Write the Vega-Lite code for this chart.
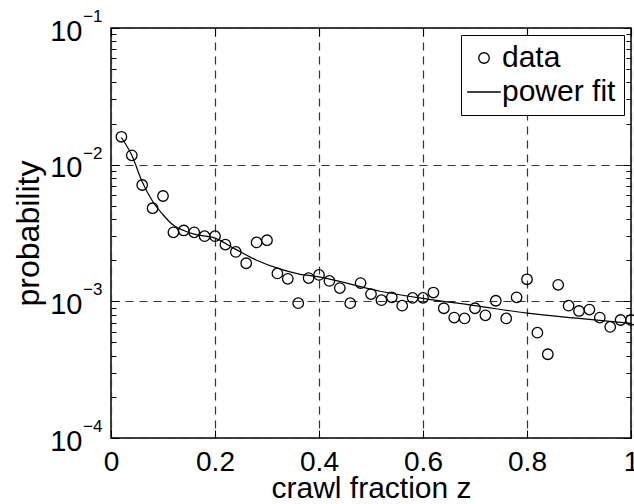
{
  "$schema": "https://vega.github.io/schema/vega-lite/v6.json",
  "width": 520,
  "height": 410,
  "autosize": {"type": "none"},
  "padding": {"left": 111, "top": 28, "right": 3, "bottom": 66},
  "background": "white",
  "config": {
    "font": "Liberation Sans",
    "view": {"stroke": "black", "strokeWidth": 1.5},
    "axis": {"labelFont": "Liberation Sans", "titleFont": "Liberation Sans", "labelColor": "black", "titleColor": "black", "titleFontWeight": "normal", "tickColor": "black", "domain": false, "labelFlush": false, "labelOverlap": false, "labelBound": false}
  },
  "datasets": {
    "pts": [
      {"z": 0.02, "p": 0.0160, "series": "data"},
      {"z": 0.04, "p": 0.0117, "series": "data"},
      {"z": 0.06, "p": 0.0071, "series": "data"},
      {"z": 0.08, "p": 0.0048, "series": "data"},
      {"z": 0.10, "p": 0.0059, "series": "data"},
      {"z": 0.12, "p": 0.0032, "series": "data"},
      {"z": 0.14, "p": 0.0033, "series": "data"},
      {"z": 0.16, "p": 0.0032, "series": "data"},
      {"z": 0.18, "p": 0.0030, "series": "data"},
      {"z": 0.20, "p": 0.0030, "series": "data"},
      {"z": 0.22, "p": 0.0026, "series": "data"},
      {"z": 0.24, "p": 0.0023, "series": "data"},
      {"z": 0.26, "p": 0.0019, "series": "data"},
      {"z": 0.28, "p": 0.0027, "series": "data"},
      {"z": 0.30, "p": 0.0028, "series": "data"},
      {"z": 0.32, "p": 0.0016, "series": "data"},
      {"z": 0.34, "p": 0.00146, "series": "data"},
      {"z": 0.36, "p": 0.00097, "series": "data"},
      {"z": 0.38, "p": 0.00148, "series": "data"},
      {"z": 0.40, "p": 0.00156, "series": "data"},
      {"z": 0.42, "p": 0.00141, "series": "data"},
      {"z": 0.44, "p": 0.00125, "series": "data"},
      {"z": 0.46, "p": 0.00097, "series": "data"},
      {"z": 0.48, "p": 0.00136, "series": "data"},
      {"z": 0.50, "p": 0.00113, "series": "data"},
      {"z": 0.52, "p": 0.00102, "series": "data"},
      {"z": 0.54, "p": 0.00107, "series": "data"},
      {"z": 0.56, "p": 0.00093, "series": "data"},
      {"z": 0.58, "p": 0.00106, "series": "data"},
      {"z": 0.60, "p": 0.00106, "series": "data"},
      {"z": 0.62, "p": 0.00116, "series": "data"},
      {"z": 0.64, "p": 0.00089, "series": "data"},
      {"z": 0.66, "p": 0.00076, "series": "data"},
      {"z": 0.68, "p": 0.00075, "series": "data"},
      {"z": 0.70, "p": 0.00089, "series": "data"},
      {"z": 0.72, "p": 0.00079, "series": "data"},
      {"z": 0.74, "p": 0.00101, "series": "data"},
      {"z": 0.76, "p": 0.00075, "series": "data"},
      {"z": 0.78, "p": 0.00107, "series": "data"},
      {"z": 0.80, "p": 0.00145, "series": "data"},
      {"z": 0.82, "p": 0.00059, "series": "data"},
      {"z": 0.84, "p": 0.00041, "series": "data"},
      {"z": 0.86, "p": 0.00132, "series": "data"},
      {"z": 0.88, "p": 0.00093, "series": "data"},
      {"z": 0.90, "p": 0.00085, "series": "data"},
      {"z": 0.92, "p": 0.00087, "series": "data"},
      {"z": 0.94, "p": 0.00076, "series": "data"},
      {"z": 0.96, "p": 0.00065, "series": "data"},
      {"z": 0.98, "p": 0.00073, "series": "data"},
      {"z": 1.00, "p": 0.00073, "series": "data"}
    ],
    "fit": [
      {"z": 0.02, "p": 0.0158},
      {"z": 0.04, "p": 0.0117},
      {"z": 0.06, "p": 0.0075},
      {"z": 0.08, "p": 0.0054},
      {"z": 0.10, "p": 0.0043},
      {"z": 0.12, "p": 0.0036},
      {"z": 0.14, "p": 0.0033},
      {"z": 0.16, "p": 0.0031},
      {"z": 0.20, "p": 0.0029},
      {"z": 0.24, "p": 0.0024},
      {"z": 0.28, "p": 0.0020},
      {"z": 0.32, "p": 0.00175},
      {"z": 0.36, "p": 0.00159},
      {"z": 0.40, "p": 0.00151},
      {"z": 0.52, "p": 0.00118},
      {"z": 0.60, "p": 0.00105},
      {"z": 0.70, "p": 0.00093},
      {"z": 0.80, "p": 0.00082},
      {"z": 0.90, "p": 0.00075},
      {"z": 1.00, "p": 0.00069}
    ],
    "exps": [
      {"p": 0.1, "e": "−1"},
      {"p": 0.01, "e": "−2"},
      {"p": 0.001, "e": "−3"},
      {"p": 0.0001, "e": "−4"}
    ]
  },
  "layer": [
    {
      "data": {"name": "fit"},
      "mark": {"type": "line", "color": "black", "strokeWidth": 1.2, "interpolate": "monotone"},
      "encoding": {
        "x": {"field": "z", "type": "quantitative", "scale": {"domain": [0, 1], "nice": false},
          "axis": {"orient": "top", "values": [0, 0.2, 0.4, 0.6, 0.8, 1], "labels": false, "grid": false, "title": null, "tickSize": -8, "tickWidth": 1}},
        "y": {"field": "p", "type": "quantitative", "scale": {"type": "log", "domain": [0.0001, 0.1], "nice": false},
          "axis": {"orient": "right", "labels": false, "grid": false, "title": null,
            "values": [0.0001,0.0002,0.0003,0.0004,0.0005,0.0006,0.0007,0.0008,0.0009,0.001,0.002,0.003,0.004,0.005,0.006,0.007,0.008,0.009,0.01,0.02,0.03,0.04,0.05,0.06,0.07,0.08,0.09,0.1],
            "tickWidth": 1,
            "tickSize": {"condition": {"test": "abs(log(datum.value)/LN10 - round(log(datum.value)/LN10)) < 0.000001", "value": -8}, "value": -5}}}
      }
    },
    {
      "data": {"name": "exps"},
      "mark": {"type": "text", "align": "left", "baseline": "middle", "dx": -28, "dy": -11, "fontSize": 17, "font": "Liberation Sans", "color": "black"},
      "encoding": {
        "x": {"datum": 0, "type": "quantitative", "scale": {"domain": [0, 1], "nice": false}, "axis": null},
        "y": {"field": "p", "type": "quantitative", "scale": {"type": "log", "domain": [0.0001, 0.1], "nice": false}, "axis": null},
        "text": {"field": "e"}
      }
    },
    {
      "data": {"name": "pts"},
      "mark": {"type": "point", "filled": false, "color": "black", "strokeWidth": 1.3, "size": 110, "opacity": 1},
      "encoding": {
        "x": {"field": "z", "type": "quantitative", "scale": {"domain": [0, 1], "nice": false},
          "axis": {"orient": "bottom", "values": [0, 0.2, 0.4, 0.6, 0.8, 1], "format": "~g", "title": "crawl fraction z",
            "labelFontSize": 28, "titleFontSize": 30, "labelPadding": 18, "titlePadding": -3,
            "tickSize": -8, "tickWidth": 1,
            "grid": true, "gridColor": "#333333", "gridDash": [8, 6], "gridWidth": 1.2, "gridOpacity": 1}},
        "y": {"field": "p", "type": "quantitative", "scale": {"type": "log", "domain": [0.0001, 0.1], "nice": false},
          "axis": {"orient": "left", "title": "probability", "labelFontSize": 29, "titleFontSize": 32, "labelPadding": 37, "labelOffset": 3, "titlePadding": 4,
            "values": [0.0001,0.0002,0.0003,0.0004,0.0005,0.0006,0.0007,0.0008,0.0009,0.001,0.002,0.003,0.004,0.005,0.006,0.007,0.008,0.009,0.01,0.02,0.03,0.04,0.05,0.06,0.07,0.08,0.09,0.1],
            "labelExpr": "abs(log(datum.value)/LN10 - round(log(datum.value)/LN10)) < 0.000001 ? '10' : ''",
            "tickWidth": 1,
            "tickSize": {"condition": {"test": "abs(log(datum.value)/LN10 - round(log(datum.value)/LN10)) < 0.000001", "value": -8}, "value": -5},
            "grid": true, "gridColor": "#333333", "gridDash": [8, 6], "gridWidth": 1.2,
            "gridOpacity": {"condition": {"test": "abs(log(datum.value)/LN10 - round(log(datum.value)/LN10)) < 0.000001", "value": 1}, "value": 0}}},
        "shape": {"field": "series", "type": "nominal",
          "scale": {"domain": ["data", "power fit"], "range": ["circle", "M-3.2,0H3.2"]},
          "legend": {"title": null, "orient": "top-right", "offset": 7, "labelFontSize": 30, "labelFont": "Liberation Sans", "labelColor": "black",
            "strokeColor": "black", "fillColor": "white", "padding": 8, "rowPadding": 4, "labelOffset": 3,
            "symbolStrokeColor": "black", "symbolFillColor": "transparent", "symbolStrokeWidth": 1.3, "symbolSize": 110}}
      }
    }
  ],
  "resolve": {"axis": {"x": "independent", "y": "independent"}}
}
